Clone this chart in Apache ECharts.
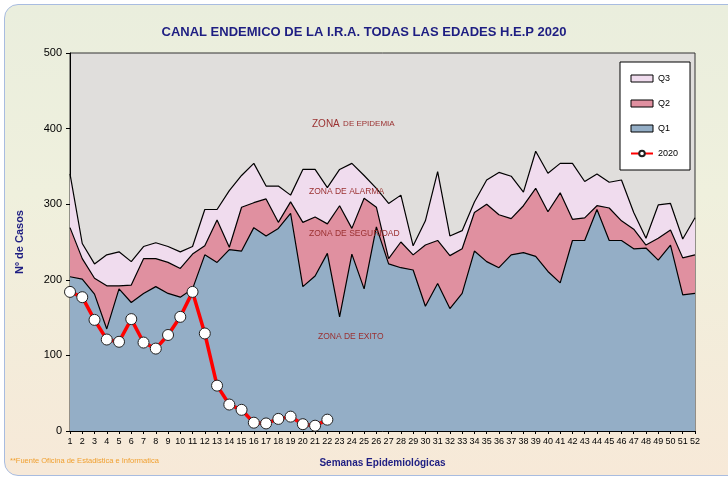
<!DOCTYPE html>
<html>
<head>
<meta charset="utf-8">
<script src="https://cdn.jsdelivr.net/npm/echarts@6/dist/echarts.min.js"></script>
<style>
html,body{margin:0;padding:0;background:#ffffff;overflow:hidden;}
#frame{position:absolute;left:4px;top:4px;width:740px;height:470px;border:1px solid #a8bce0;border-radius:14px;
background:linear-gradient(to bottom,#eaeedd 0%,#eff0dd 40%,#f7e9d8 100%);}
#chart{position:absolute;left:0;top:0;width:728px;height:477px;}
</style>
</head>
<body>
<div id="frame"></div>
<div id="chart"></div>
<script>
const weeks = [];
for (let i = 1; i <= 52; i++) weeks.push(String(i));

const q3 = [340,248,221,233,237,224,244,249,244,237,244,293,293,318,338,354,324,324,312,346,
            346,322,346,354,338,321,301,312,245,278,343,258,265,303,332,342,337,316,370,341,
            354,354,330,340,329,332,289,255,299,301,254,282];
const q2 = [269,228,202,192,192,193,228,228,223,215,234,245,279,243,296,302,307,276,303,276,
            283,274,298,268,308,296,228,250,233,246,252,232,241,289,300,286,281,298,321,290,
            315,280,282,298,295,278,267,246,255,266,229,233];
const q1 = [204,201,181,135,188,170,182,191,182,177,188,233,223,240,238,269,258,268,288,191,
            205,235,151,234,188,270,221,216,213,165,195,162,182,238,224,216,233,236,231,211,
            196,252,252,293,252,252,241,242,226,246,180,182];
const y2020 = [184,177,147,121,118,148,117,109,127,151,184,129,60,35,28,11,10,16,19,9,7,15];

const yTicks = [0,100,200,300,400,500];

const chart = echarts.init(document.getElementById('chart'));
const areaSeries = (name, data, color) => ({
  name, type: 'line', data, showSymbol: false, symbol: 'none',
  lineStyle: {color: '#000', width: 1.2},
  areaStyle: {color, opacity: 1},
  itemStyle: {color},
  silent: true
});
const zoneColor = '#9a3030';

chart.setOption({
  backgroundColor: 'transparent',
  animation: false,
  title: {
    text: 'CANAL ENDEMICO DE LA I.R.A. TODAS LAS EDADES H.E.P 2020',
    left: 'center', top: 21,
    textStyle: {fontFamily: 'Liberation Sans', fontSize: 13, fontWeight: 'bold', color: '#1e1e82'}
  },
  grid: {left: 70, right: 33, top: 53, bottom: 46, show: true, backgroundColor: '#e0dedc', borderColor: '#333', borderWidth: 1},
  legend: {
    orient: 'vertical', left: 620, top: 62,
    backgroundColor: '#ffffff', borderColor: '#000', borderWidth: 1,
    padding: [12, 12, 12, 10], itemGap: 16, itemWidth: 22, itemHeight: 7,
    textStyle: {fontFamily: 'Liberation Sans', fontSize: 9, color: '#000'},
    data: [
      {name: 'Q3', icon: 'rect', itemStyle: {color: '#f0dcee', borderColor: '#000', borderWidth: 1}},
      {name: 'Q2', icon: 'rect', itemStyle: {color: '#e090a0', borderColor: '#000', borderWidth: 1}},
      {name: 'Q1', icon: 'rect', itemStyle: {color: '#94aec6', borderColor: '#000', borderWidth: 1}},
      {name: '2020'}
    ]
  },
  xAxis: {
    type: 'category', data: weeks, boundaryGap: false,
    name: 'Semanas Epidemiológicas', nameLocation: 'middle', nameGap: 27,
    nameTextStyle: {fontFamily: 'Liberation Sans', fontSize: 10, fontWeight: 'bold', color: '#1e1e82'},
    axisLine: {lineStyle: {color: '#000'}},
    axisTick: {show: true, interval: 0, length: 3, lineStyle: {color: '#000'}},
    axisLabel: {interval: 0, fontFamily: 'Liberation Sans', fontSize: 9, color: '#000', margin: 6},
    splitLine: {show: false}
  },
  yAxis: {
    type: 'value', min: 0, max: 500, interval: 100,
    name: 'Nº de Casos', nameLocation: 'middle', nameGap: 45, nameRotate: 90,
    nameTextStyle: {fontFamily: 'Liberation Sans', fontSize: 11, fontWeight: 'bold', color: '#1e1e82'},
    axisLine: {show: true, lineStyle: {color: '#000'}},
    axisTick: {show: true, length: 4, lineStyle: {color: '#000'}},
    axisLabel: {fontFamily: 'Liberation Sans', fontSize: 11, color: '#000', margin: 8,
      formatter: v => yTicks.includes(v) ? String(v) : ''},
    splitLine: {show: false}
  },
  series: [
    areaSeries('Q3', q3, '#f0dcee'),
    areaSeries('Q2', q2, '#e090a0'),
    areaSeries('Q1', q1, '#94aec6'),
    {
      name: '2020', type: 'line', data: y2020,
      symbol: 'circle', symbolSize: 11, showSymbol: true,
      lineStyle: {color: '#ff0000', width: 3.5},
      itemStyle: {color: '#ffffff', borderColor: '#222', borderWidth: 1},
      z: 5
    }
  ],
  graphic: [
    {type: 'text', z: 100, left: 312, top: 118, style: {text: '{a|ZONA} {b|DE EPIDEMIA}', rich: {a: {fontSize: 10, fill: zoneColor, fontFamily: 'Liberation Sans'}, b: {fontSize: 8, fill: zoneColor, fontFamily: 'Liberation Sans'}}}},
    {type: 'text', z: 100, left: 309, top: 187, style: {text: 'ZONA DE ALARMA', fontSize: 8.5, fill: zoneColor, fontFamily: 'Liberation Sans'}},
    {type: 'text', z: 100, left: 309, top: 229, style: {text: 'ZONA DE SEGURIDAD', fontSize: 8.5, fill: zoneColor, fontFamily: 'Liberation Sans'}},
    {type: 'text', z: 100, left: 318, top: 332, style: {text: 'ZONA DE EXITO', fontSize: 8.5, fill: zoneColor, fontFamily: 'Liberation Sans'}},
    {type: 'text', z: 100, left: 10, top: 457, style: {text: '**Fuente Oficina de Estadistica e Informatica', fontSize: 7.5, fill: '#f0a030', fontFamily: 'Liberation Sans'}}
  ]
});
</script>
</body>
</html>
